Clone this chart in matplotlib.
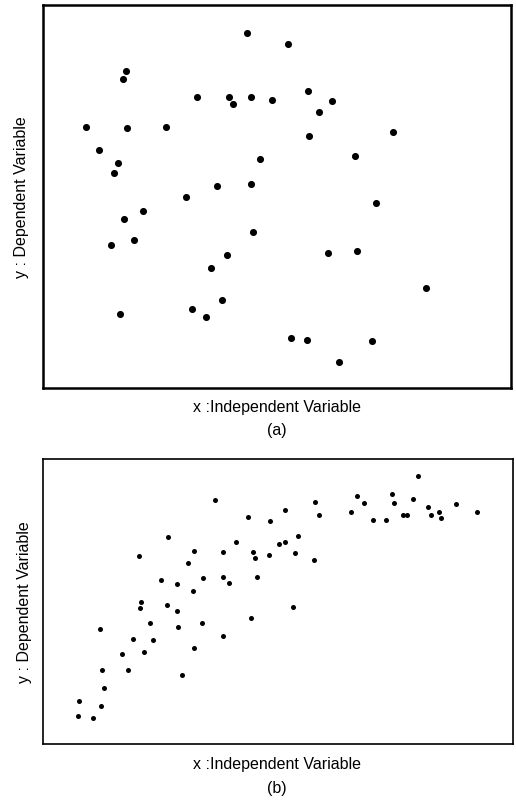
import matplotlib.pyplot as plt

plt.rcParams['font.family'] = ['Liberation Sans', 'DejaVu Sans']

# panel (a): no relationship (axis units 0-100, no ticks)
xa = [43.7, 17.7, 17.2, 33.0, 39.7, 40.7, 44.4, 9.3, 18.0, 26.4, 12.0, 16.0,
      15.2, 37.2, 44.4, 30.6, 46.4, 52.4, 56.6, 49.0, 61.8, 59.0, 56.8, 74.9,
      66.8, 21.3, 17.4, 19.4, 14.5, 45.0, 39.4, 35.9, 38.3, 31.8, 34.9, 16.5,
      71.2, 60.9, 67.2, 81.8, 53.1, 56.4, 70.4, 63.2]
ya = [92.7, 82.7, 80.7, 75.9, 75.8, 74.0, 75.9, 68.1, 67.7, 68.1, 62.1, 58.8,
      56.2, 52.8, 53.3, 49.8, 59.7, 89.9, 77.6, 75.2, 74.8, 71.9, 65.8, 66.7,
      60.5, 46.1, 44.1, 38.7, 37.2, 40.7, 34.6, 31.3, 22.9, 20.6, 18.5, 19.2,
      48.3, 35.2, 35.7, 26.1, 12.9, 12.5, 12.3, 6.7]

# panel (b): rising then levelling off
xb = [36.7, 43.7, 48.4, 26.7, 41.0, 50.3, 20.4, 32.2, 38.4, 44.7, 45.1, 48.1,
      30.8, 25.2, 28.5, 34.1, 38.3, 39.6, 45.6, 31.9, 79.9, 66.8, 74.3, 58.0,
      68.4, 74.7, 78.8, 81.9, 87.8, 51.6, 58.8, 65.5, 70.2, 73.1, 76.7, 77.4,
      82.5, 84.3, 84.6, 92.3, 54.3, 51.6, 53.6, 57.7, 20.8, 20.6, 26.5, 28.6,
      44.2, 12.1, 22.8, 28.8, 33.8, 19.1, 23.4, 38.4, 16.8, 21.6, 32.1, 12.6,
      18.1, 29.5, 13.0, 7.7, 12.3, 7.4, 10.7, 53.3]
yb = [85.7, 79.6, 78.4, 72.9, 71.1, 70.2, 65.9, 67.7, 67.3, 67.3, 65.3, 66.3,
      63.6, 57.5, 56.2, 58.4, 58.5, 56.7, 58.6, 53.8, 94.1, 87.0, 88.0, 84.9,
      84.7, 84.8, 86.1, 83.3, 84.2, 82.1, 80.4, 81.4, 78.6, 78.8, 80.6, 80.6,
      80.6, 81.6, 79.3, 81.6, 73.1, 70.8, 67.1, 64.7, 49.8, 47.7, 48.8, 46.8,
      44.2, 40.4, 42.5, 41.2, 42.4, 36.9, 36.6, 38.0, 31.6, 32.4, 33.7, 26.0,
      26.0, 24.3, 19.8, 15.1, 13.4, 9.8, 9.1, 48.3]

xlabel = "x :Independent Variable"
ylabel = "y : Dependent Variable"


def setup(ax, lw):
    ax.set_xlim(0, 100)
    ax.set_ylim(0, 100)
    ax.set_xticks([])
    ax.set_yticks([])
    for sp in ax.spines.values():
        sp.set_linewidth(lw)
        sp.set_color('black')


fig = plt.figure(figsize=(5.16, 8.06), dpi=100)

ax1 = fig.add_axes([0.083, 0.519, 0.907, 0.475])
ax1.scatter(xa, ya, s=26, color='black', linewidths=0)
setup(ax1, 1.8)

ax2 = fig.add_axes([0.083, 0.077, 0.911, 0.353])
ax2.scatter(xb, yb, s=13, color='black', linewidths=0)
setup(ax2, 1.2)

fs = 11.5
fig.text(0.537, 0.494, xlabel, ha='center', va='center', fontsize=fs)
fig.text(0.537, 0.466, "(a)", ha='center', va='center', fontsize=fs)
fig.text(0.537, 0.051, xlabel, ha='center', va='center', fontsize=fs)
fig.text(0.537, 0.022, "(b)", ha='center', va='center', fontsize=fs)
fig.text(0.042, 0.756, ylabel, ha='center', va='center', rotation=90, fontsize=fs)
fig.text(0.048, 0.253, ylabel, ha='center', va='center', rotation=90, fontsize=fs)

fig.savefig("out.png", dpi=100)
